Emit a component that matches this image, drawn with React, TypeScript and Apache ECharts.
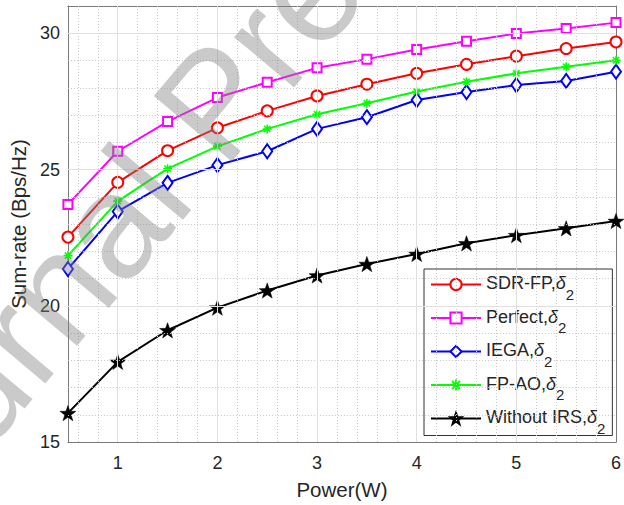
import React, { useEffect, useRef } from "react";
import * as echarts from "echarts";

const powers = [0.5, 1, 1.5, 2, 2.5, 3, 3.5, 4, 4.5, 5, 5.5, 6];
const sdrFp = [22.52, 24.53, 25.69, 26.53, 27.15, 27.7, 28.13, 28.53, 28.86, 29.16, 29.44, 29.68];
const perfect = [23.72, 25.67, 26.76, 27.64, 28.2, 28.73, 29.05, 29.4, 29.71, 29.99, 30.17, 30.39];
const iega = [21.35, 23.46, 24.51, 25.16, 25.67, 26.49, 26.92, 27.55, 27.84, 28.1, 28.25, 28.59];
const fpAo = [21.84, 23.84, 25.03, 25.85, 26.49, 27.03, 27.43, 27.86, 28.22, 28.53, 28.77, 29.01];
const withoutIrs = [16.06, 17.94, 19.1, 19.93, 20.56, 21.11, 21.53, 21.9, 22.29, 22.59, 22.84, 23.11];

const seriesNames = ["SDR-FP", "Perfect", "IEGA", "FP-AO", "Without IRS"];
const xTicks = [1, 2, 3, 4, 5, 6];
const yTicks = [15, 20, 25, 30];
const xMinorGrid = [0.6, 0.8, 1.2, 1.4, 1.6, 1.8, 2.2, 2.4, 2.6, 2.8, 3.2, 3.4, 3.6, 3.8, 4.2, 4.4, 4.6, 4.8, 5.2, 5.4, 5.6, 5.8];
const yMinorGrid = [16, 17, 18, 19, 21, 22, 23, 24, 26, 27, 28, 29];
const xMajorGrid = [1, 2, 3, 4, 5];
const yMajorGrid = [20, 25, 30];

const FONT = "'Liberation Sans', Arial, Helvetica, sans-serif";
const TXT = "#262626";
const AX = "#7a7a7a";

function asteriskPath(): string {
  const w = 0.17;
  let s = "";
  for (const deg of [0, 45, 90, 135]) {
    const t = (deg * Math.PI) / 180;
    const dx = Math.cos(t), dy = Math.sin(t);
    const nx = -dy * w, ny = dx * w;
    const pts = [
      [dx + nx, dy + ny],
      [dx - nx, dy - ny],
      [-dx - nx, -dy - ny],
      [-dx + nx, -dy + ny],
    ];
    s += "M " + pts.map((p) => (p[0] + 1).toFixed(3) + " " + (p[1] + 1).toFixed(3)).join(" L ") + " Z ";
  }
  return "path://" + s;
}

function starPath(): string {
  const pts: string[] = [];
  for (let i = 0; i < 10; i++) {
    const r = i % 2 === 0 ? 1 : 0.4;
    const a = -Math.PI / 2 + (i * Math.PI) / 5;
    pts.push((r * Math.cos(a) + 1).toFixed(3) + " " + (r * Math.sin(a) + 1).toFixed(3));
  }
  return "path://M " + pts.join(" L ") + " Z";
}

function mkSeries(name: string, values: number[], color: string, symbol: string, size: any, extra: any = {}) {
  return {
    name,
    type: "line",
    data: powers.map((p, i) => [p, values[i]]),
    symbol,
    symbolSize: size,
    showAllSymbol: true,
    lineStyle: { color, width: 2 },
    itemStyle: { color, borderColor: color, borderWidth: 1.6 },
    emphasis: { disabled: true },
    z: 3,
    ...extra,
  };
}

export default function App() {
  const ref = useRef<HTMLDivElement>(null);
  useEffect(() => {
    if (!ref.current) return;
    const chart = echarts.init(ref.current, undefined, { renderer: "svg" });
    const gridLine = (key: "xAxis" | "yAxis", v: number, major: boolean) => ({
      [key]: v,
      lineStyle: major
        ? { type: "solid", color: "#e0e0e0", width: 1 }
        : { type: [1, 2], color: "#c8c8c8", width: 1 },
    });
    const wmAngle = (50 * Math.PI) / 180;
    const option: any = {
      animation: false,
      grid: { left: 66.5, right: 3, top: 6, bottom: 61, containLabel: false },
      xAxis: [
        {
          type: "value",
          min: 0.5,
          max: 6,
          position: "bottom",
          axisLine: { show: true, onZero: false, lineStyle: { color: AX, width: 1 } },
          axisTick: { show: true, inside: true, length: 5, customValues: xTicks, lineStyle: { color: AX } },
          axisLabel: { customValues: xTicks, fontSize: 18, color: TXT, margin: 12, fontFamily: FONT },
          splitLine: { show: false },
          name: "Power(W)",
          nameLocation: "middle",
          nameGap: 37,
          nameTextStyle: { fontSize: 20.5, color: TXT, fontFamily: FONT },
        },
        {
          type: "value",
          min: 0.5,
          max: 6,
          position: "top",
          axisLine: { show: true, onZero: false, lineStyle: { color: AX, width: 1 } },
          axisTick: { show: true, inside: true, length: 5, customValues: xTicks, lineStyle: { color: AX } },
          axisLabel: { show: false },
          splitLine: { show: false },
        },
      ],
      yAxis: [
        {
          type: "value",
          min: 15,
          max: 31,
          position: "left",
          axisLine: { show: true, onZero: false, lineStyle: { color: AX, width: 1 } },
          axisTick: { show: true, inside: true, length: 5, customValues: yTicks, lineStyle: { color: AX } },
          axisLabel: { customValues: yTicks, fontSize: 18, color: TXT, margin: 8, fontFamily: FONT },
          splitLine: { show: false },
          name: "Sum-rate (Bps/Hz)",
          nameLocation: "middle",
          nameGap: 35,
          nameTextStyle: { fontSize: 20.5, color: TXT, fontFamily: FONT },
        },
        {
          type: "value",
          min: 15,
          max: 31,
          position: "right",
          axisLine: { show: true, onZero: false, lineStyle: { color: AX, width: 1 } },
          axisTick: { show: true, inside: true, length: 5, customValues: yTicks, lineStyle: { color: AX } },
          axisLabel: { show: false },
          splitLine: { show: false },
        },
      ],
      legend: {
        orient: "vertical",
        left: 424,
        top: 269,
        data: seriesNames,
        itemWidth: 50,
        itemHeight: 14,
        itemGap: 6,
        padding: [5, 7, 0, 6],
        backgroundColor: "#ffffff",
        borderColor: "#333333",
        borderWidth: 1,
        borderRadius: 0,
        selectedMode: false,
        formatter: (name: string) => `{n|${name},}{d|δ}{s|2}`,
        textStyle: {
          color: TXT,
          fontFamily: FONT,
          fontSize: 18,
          rich: {
            n: { fontSize: 18, color: TXT, fontFamily: FONT, lineHeight: 21, verticalAlign: "top" },
            d: { fontSize: 18, color: TXT, fontFamily: FONT, fontStyle: "italic", lineHeight: 21, verticalAlign: "top" },
            s: { fontSize: 15, color: TXT, fontFamily: FONT, height: 2, lineHeight: 2, verticalAlign: "bottom" },
          },
        },
      },
      graphic: [
        {
          type: "text",
          x: -154,
          y: 541,
          rotation: wmAngle,
          z: 100,
          silent: true,
          style: {
            text: "Journal Pre-proof",
            x: 0,
            y: 0,
            fontSize: 148,
            fontFamily: FONT,
            fill: "rgba(128,128,128,0.42)",
            align: "left",
            verticalAlign: "middle",
          },
        },
      ],
      series: [
        {
          name: "__grid",
          type: "line",
          data: [],
          silent: true,
          z: 1,
          markLine: {
            silent: true,
            symbol: ["none", "none"],
            label: { show: false },
            emphasis: { disabled: true },
            data: [
              ...xMinorGrid.map((v) => gridLine("xAxis", v, false)),
              ...yMinorGrid.map((v) => gridLine("yAxis", v, false)),
              ...xMajorGrid.map((v) => gridLine("xAxis", v, true)),
              ...yMajorGrid.map((v) => gridLine("yAxis", v, true)),
            ],
          },
        },
        mkSeries(seriesNames[0], sdrFp, "#ff0000", "emptyCircle", 11),
        mkSeries(seriesNames[1], perfect, "#ff00ff", "emptyRect", 9),
        mkSeries(seriesNames[2], iega, "#0000ff", "emptyDiamond", [10, 14]),
        mkSeries(seriesNames[3], fpAo, "#00ff00", asteriskPath(), 9, { itemStyle: { color: "#00ff00", borderWidth: 0 } }),
        mkSeries(seriesNames[4], withoutIrs, "#000000", starPath(), 16, {
          symbolKeepAspect: true,
          itemStyle: { color: "#000000", borderColor: "#000000", borderWidth: 0.5 },
        }),
      ],
    };
    chart.setOption(option);
    return () => chart.dispose();
  }, []);
  return <div ref={ref} style={{ position: "absolute", left: 0, top: 0, width: 624, height: 505 }} />;
}
